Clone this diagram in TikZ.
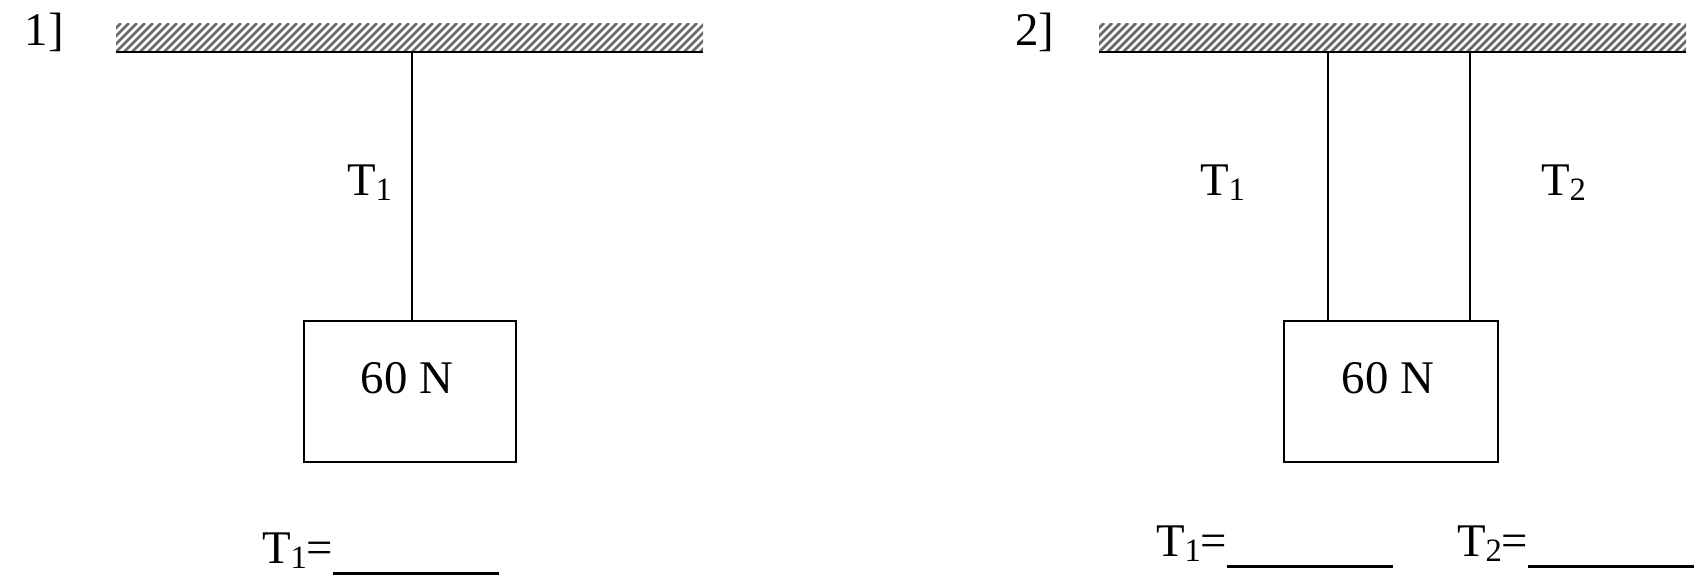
\documentclass[tikz,border=0pt]{standalone}
\usepackage{fontspec}
\setmainfont{Liberation Serif}
\newcommand\subs[1]{\raisebox{-2.75pt}{\fontsize{16.3}{18}\selectfont #1}}
\newcommand\blankrule{\rule[-5.9pt]{83pt}{1.35pt}}
\begin{document}
\begin{tikzpicture}[x=0.5pt,y=-0.5pt,
  every node/.style={inner sep=0pt,outer sep=0pt,font=\fontsize{23.4}{28}\selectfont},
  txt/.style={anchor=base west},
  ceiling/.style={minimum width=293.5pt,minimum height=14.5pt,
    path picture={\foreach \i in {-4,...,80}
      \draw[black!58,line width=1.4pt] ([xshift=\i*4pt]path picture bounding box.south west) -- ++(14.5pt,14.5pt);}},
  wall/.style={line width=1.1pt},
  rope/.style={line width=1.4pt},
  weight/.style={draw,line width=1.25pt,minimum height=70.5pt}
]
\useasboundingbox (0,0) rectangle (1707,585);

% ---- 1 ----
\node[txt] (n1) at (25,45) {1]};
\node[ceiling] (c1) at (409.5,37.5) {};
\draw[wall] (c1.south west) -- (c1.south east);
\node[weight,minimum width=106pt] (b1) at (410,391.5) {};
\node[anchor=base] (w1) at (407,393) {60 N};
\coordinate (a1) at (412,52);
\draw[rope] (a1) -- (a1 |- b1.north);
\node[txt] (t1) at (347,195) {T\subs{1}};
\node[txt] (r1) at (262,563) {T\subs{1}=\blankrule};

% ---- 2 ----
\node[txt] (n2) at (1015,45) {2]};
\node[ceiling] (c2) at (1392.5,37.5) {};
\draw[wall] (c2.south west) -- (c2.south east);
\node[weight,minimum width=107pt] (b2) at (1391,391.5) {};
\node[anchor=base] (w2) at (1388,393) {60 N};
\coordinate (a2) at (1328,52);
\coordinate (a3) at (1470,52);
\draw[rope] (a2) -- (a2 |- b2.north);
\draw[rope] (a3) -- (a3 |- b2.north);
\node[txt] (t2) at (1200,195) {T\subs{1}};
\node[txt] (t3) at (1541,195) {T\subs{2}};
\node[txt] (r2) at (1156,556) {T\subs{1}=\blankrule};
\node[txt] (r3) at (1457,556) {T\subs{2}=\blankrule};
\end{tikzpicture}
\end{document}
